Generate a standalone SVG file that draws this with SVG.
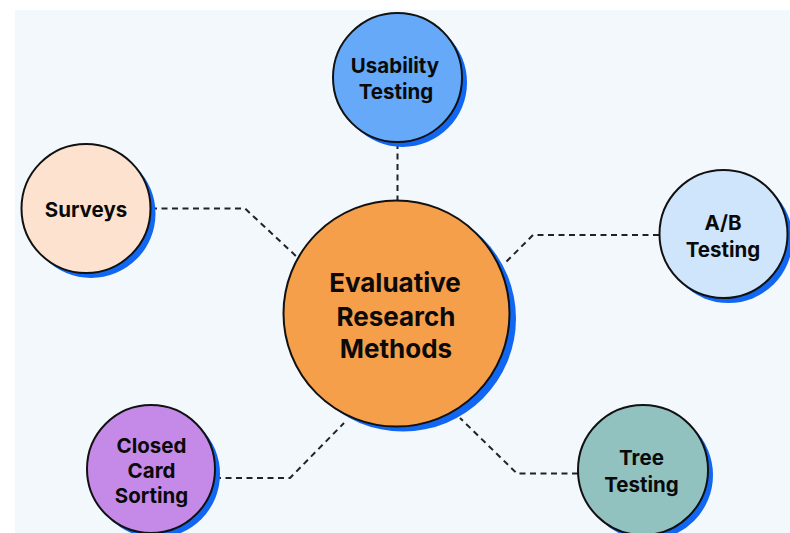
<svg xmlns="http://www.w3.org/2000/svg" width="790" height="533" viewBox="0 0 790 533">
  <style>
    .shadow { fill: #1166f2; }
    .ring { stroke: #111; stroke-width: 2; }
    .label { font-family: Inter, "Liberation Sans", sans-serif; font-weight: 700; font-size: 20.5px; fill: #0a0a0a; text-anchor: middle; }
    .title { font-size: 26px; }
    .link { fill: none; stroke: #222; stroke-width: 2; stroke-dasharray: 6 4.5; stroke-linejoin: round; }
  </style>

  <!-- page -->
  <rect x="0" y="0" width="790" height="533" fill="#ffffff"/>
  <rect x="15" y="10" width="775" height="523" fill="#f3f8fd"/>

  <!-- dashed links from the hub to each method -->
  <g id="connectors">
    <polyline class="link" points="397.5,143 397.5,201"/>
    <polyline class="link" points="151,208.5 245,208.5 297,257"/>
    <polyline class="link" points="659,235 533,235 506,262"/>
    <polyline class="link" points="215,478 290,478 344,423"/>
    <polyline class="link" points="578,473.5 517,473.5 460,418"/>
  </g>

  <g id="hub">
    <circle class="shadow" cx="403" cy="318.5" r="113"/>
    <circle class="ring" cx="396.5" cy="313.5" r="113" fill="#f59f4b"/>
    <text class="label title" x="395" y="292">Evaluative</text>
    <text class="label title" x="396" y="326">Research</text>
    <text class="label title" x="396" y="358">Methods</text>
  </g>

  <g id="usability-testing">
    <circle class="shadow" cx="402.5" cy="82.5" r="64.5"/>
    <circle class="ring" cx="397.5" cy="77.5" r="64.5" fill="#65a9f8"/>
    <text class="label" x="395" y="73">Usability</text>
    <text class="label" x="396" y="99">Testing</text>
  </g>

  <g id="surveys">
    <circle class="shadow" cx="91" cy="213.5" r="64.5"/>
    <circle class="ring" cx="86" cy="208.5" r="64.5" fill="#fde3cf"/>
    <text class="label" x="86" y="216.5">Surveys</text>
  </g>

  <g id="ab-testing">
    <circle class="shadow" cx="728.5" cy="239" r="64"/>
    <circle class="ring" cx="723.5" cy="234" r="64" fill="#cfe5fb"/>
    <text class="label" x="723" y="230">A/B</text>
    <text class="label" x="723" y="256.5">Testing</text>
  </g>

  <g id="closed-card-sorting">
    <circle class="shadow" cx="156" cy="474" r="64"/>
    <circle class="ring" cx="151" cy="469" r="64" fill="#c58ae8"/>
    <text class="label" x="151.5" y="453">Closed</text>
    <text class="label" x="151.5" y="478">Card</text>
    <text class="label" x="151.5" y="503">Sorting</text>
  </g>

  <g id="tree-testing">
    <circle class="shadow" cx="648" cy="475" r="65"/>
    <circle class="ring" cx="643" cy="470" r="65" fill="#92c2bf"/>
    <text class="label" x="641.5" y="465">Tree</text>
    <text class="label" x="641.5" y="491.5">Testing</text>
  </g>
</svg>
